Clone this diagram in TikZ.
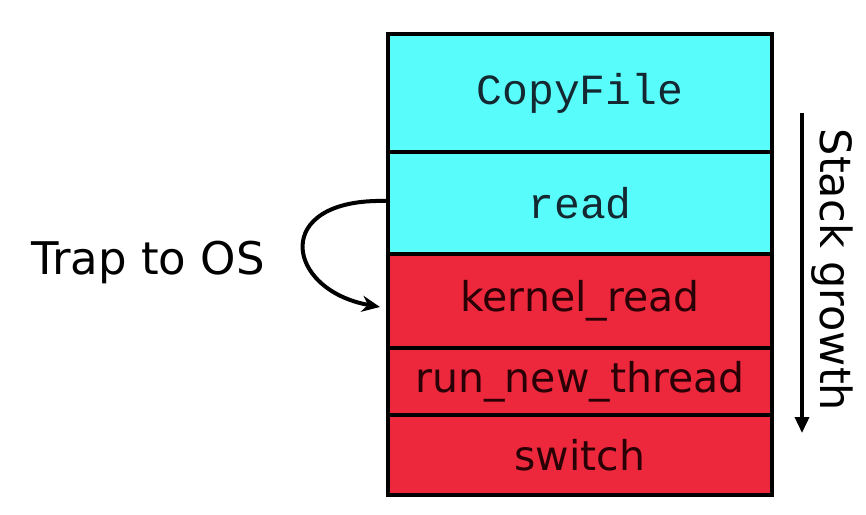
\documentclass[tikz,border=0pt]{standalone}
\usepackage{fontspec}
\setmainfont{DejaVu Sans}
\setmonofont{Liberation Mono}
\usetikzlibrary{arrows.meta}
\definecolor{stackcyan}{RGB}{88,252,250}
\definecolor{stackred}{RGB}{238,40,60}
\definecolor{txtcyan}{RGB}{20,40,50}
\definecolor{txtred}{RGB}{40,0,5}
\tikzset{
  frame/.style={draw=black, line width=3.5pt, minimum width=384pt, inner sep=0pt, anchor=center},
  user/.style={frame, fill=stackcyan, text=txtcyan, font=\ttfamily\fontsize{43}{43}\selectfont},
  kern/.style={frame, fill=stackred, text=txtred, font=\fontsize{41}{41}\selectfont},
  arr/.style={line width=4pt, -{Stealth[length=18pt,width=16pt]}},
  garr/.style={line width=3.5pt, -{Triangle[length=16pt,width=14pt]}},
  lbl/.style={font=\fontsize{45}{45}\selectfont, inner sep=0pt}
}
\begin{document}
\begin{tikzpicture}[x=1pt,y=-1pt]
\useasboundingbox (0,0) rectangle (866,514);
\node[user, minimum height=118pt] (copy) at (580,93) {CopyFile};
\node[user, minimum height=102pt] (read) at (580,203) {read};
\node[kern, minimum height=94pt] (kread) at (580,301) {kernel\_read};
\node[kern, minimum height=67pt] (runt) at (580,381.5) {run\_new\_thread};
\node[kern, minimum height=80pt] (sw) at (580,455) {switch};
\node[lbl] (trap) at (148,262) {Trap to OS};
\coordinate (tend) at (380,307);
\draw[arr] ([yshift=2pt]read.west) .. controls (270,198) and (285,290) .. (tend);
\coordinate (gtop) at (802,113);
\coordinate (gbot) at (802,433);
\draw[garr] (gtop) -- (gbot);
\node[lbl, font=\fontsize{43}{43}\selectfont, rotate=-90] (growth) at (832,270) {Stack growth};
\end{tikzpicture}
\end{document}
